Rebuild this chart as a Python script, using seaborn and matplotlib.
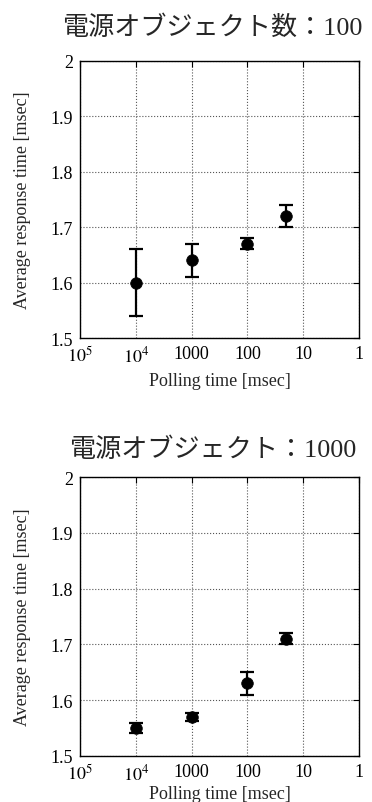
import numpy as np
import pandas as pd
import matplotlib
matplotlib.use("Agg")
import matplotlib.pyplot as plt
import seaborn as sns

# polling time [msec] and measured response times
polling = [10000, 1000, 100, 20]
xtick_vals = [1e5, 1e4, 1000, 100, 10, 1]
xtick_labels = ['$10^5$', '$10^4$', '1000', '100', '10', '1']
ytick_vals = [1.5, 1.6, 1.7, 1.8, 1.9, 2.0]
ytick_labels = ['1.5', '1.6', '1.7', '1.8', '1.9', '2']

titles = ['電源オブジェクト数：100', '電源オブジェクト：1000']
mean_100 = [1.60, 1.64, 1.67, 1.72]
err_100 = [0.061, 0.03, 0.01, 0.02]
mean_1000 = [1.55, 1.57, 1.63, 1.71]
err_1000 = [0.0095, 0.007, 0.02, 0.01]

sns.set_style("white")
plt.rcParams['font.family'] = ['Liberation Serif', 'Noto Sans CJK JP']
plt.rcParams['mathtext.fontset'] = 'stix'

fig = plt.figure(figsize=(3.72, 8.03), dpi=100)
ax1 = fig.add_axes([0.215, 0.5778, 0.75, 0.345])
ax2 = fig.add_axes([0.215, 0.0573, 0.75, 0.3474])

for ax, title, m, e, tpad, xpad in zip([ax1, ax2], titles, [mean_100, mean_1000],
                                       [err_100, err_1000], [19.5, 15], [5, 1.5]):
    df = pd.DataFrame({'polling': polling, 'resp': m})
    ax.errorbar(polling, m, yerr=e, fmt='none', ecolor='black',
                elinewidth=1.6, capsize=5, capthick=1.6)
    sns.scatterplot(data=df, x='polling', y='resp', ax=ax, color='black',
                    s=70, edgecolor='black', linewidth=0.5, zorder=3)
    ax.set_xscale('log')
    ax.set_xlim(1e5, 1)
    ax.set_ylim(1.5, 2.0)
    ax.set_xticks(xtick_vals)
    ax.set_xticklabels(xtick_labels)
    ax.xaxis.set_minor_locator(matplotlib.ticker.NullLocator())
    ax.set_yticks(ytick_vals)
    ax.set_yticklabels(ytick_labels)
    ax.grid(True, linestyle=':', color='#555555', linewidth=0.8)
    ax.tick_params(direction='in', length=4, top=True, right=True,
                   labelsize=13, pad=5, colors='black')
    for sp in ax.spines.values():
        sp.set_color('black')
        sp.set_linewidth(1.0)
    ax.set_xlabel('Polling time [msec]', fontsize=13, labelpad=xpad)
    ax.set_ylabel('Average response time [msec]', fontsize=13, labelpad=14)
    ax.set_title(title, fontsize=18.8, pad=tpad, x=0.475)

fig.savefig('out.png', dpi=100)
